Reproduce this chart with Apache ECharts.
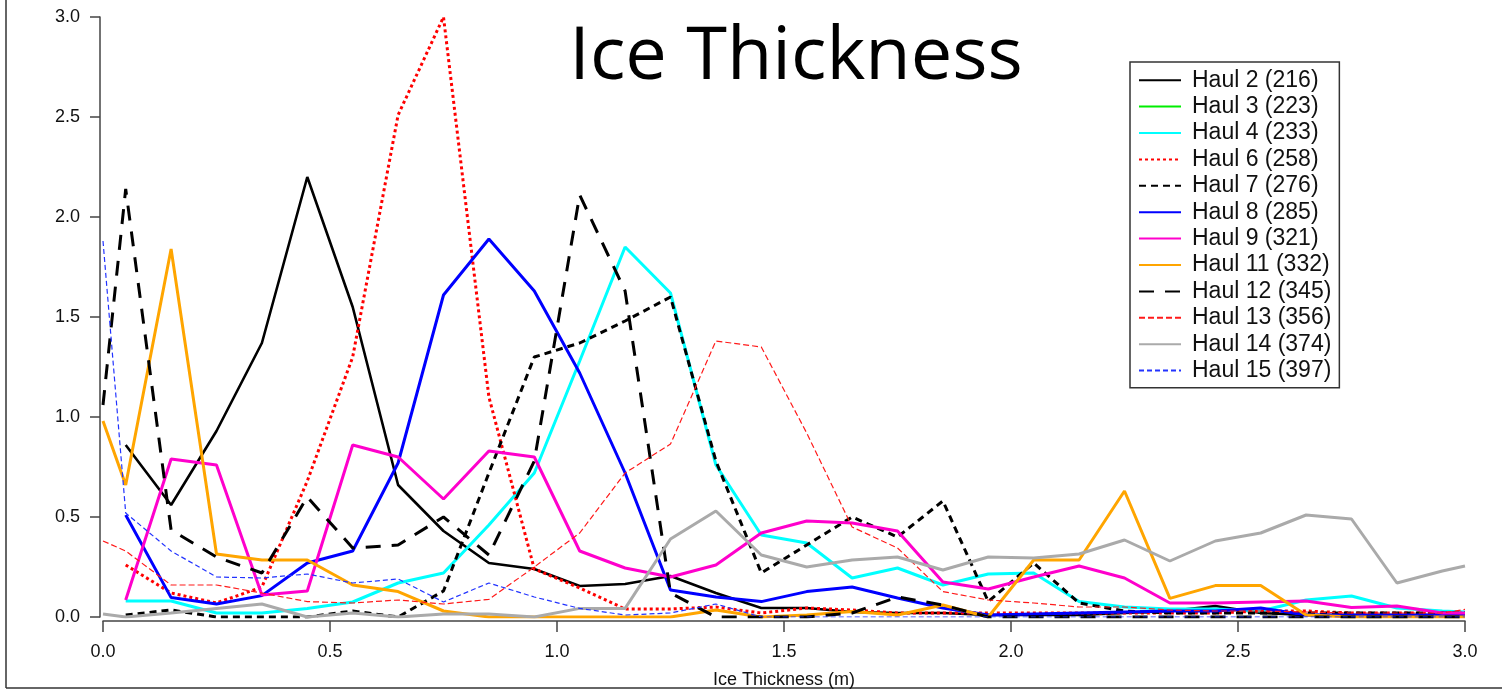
<!DOCTYPE html>
<html>
<head>
<meta charset="utf-8">
<script src="https://cdn.jsdelivr.net/npm/echarts@6/dist/echarts.min.js"></script>
<style>html,body{margin:0;padding:0;background:#fff}#chart{width:1502px;height:690px}</style>
</head>
<body>
<div id="chart"></div>
<script>
// Ice thickness bin positions (m)
const xVals = [0.0, 0.05, 0.15, 0.25, 0.35, 0.45, 0.55, 0.65, 0.75, 0.85, 0.95, 1.05, 1.15, 1.25, 1.35, 1.45, 1.55, 1.65, 1.75, 1.85, 1.95, 2.05, 2.15, 2.25, 2.35, 2.45, 2.55, 2.65, 2.75, 2.85, 2.95, 3.0];
const xTicks = [0, 0.5, 1.0, 1.5, 2.0, 2.5, 3.0];
const yTicks = [0, 0.5, 1.0, 1.5, 2.0, 2.5, 3.0];

const seriesNames = ["Haul 2 (216)", "Haul 3 (223)", "Haul 4 (233)", "Haul 6 (258)", "Haul 7 (276)", "Haul 8 (285)", "Haul 9 (321)", "Haul 11 (332)", "Haul 12 (345)", "Haul 13 (356)", "Haul 14 (374)", "Haul 15 (397)"];

const haul2  = [null, 0.86, 0.56, 0.93, 1.37, 2.20, 1.55, 0.66, 0.43, 0.27, 0.24, 0.155, 0.165, 0.205, 0.12, 0.045, 0.045, 0.025, 0.02, 0.02, 0.01, 0.01, 0.01, 0.02, 0.03, 0.055, 0.02, 0.01, 0.01, 0.01, 0.01, 0.01];
const haul3  = []; // no visible trace in the reference
const haul4  = [null, 0.08, 0.08, 0.02, 0.02, 0.043, 0.075, 0.17, 0.22, 0.46, 0.72, 1.28, 1.85, 1.62, 0.76, 0.41, 0.37, 0.195, 0.245, 0.16, 0.215, 0.22, 0.077, 0.05, 0.04, 0.04, 0.03, 0.085, 0.105, 0.045, 0.03, 0.025];
const haul6  = [null, 0.26, 0.12, 0.07, 0.15, 0.68, 1.30, 2.51, 3.0, 1.10, 0.24, 0.145, 0.04, 0.04, 0.05, 0.02, 0.045, 0.035, 0.02, 0.02, 0.02, 0.02, 0.02, 0.02, 0.02, 0.02, 0.03, 0.03, 0.02, 0.02, 0.02, 0.02];
const haul7  = [null, 0.01, 0.035, 0.0, 0.0, 0.0, 0.03, 0.0, 0.13, 0.72, 1.30, 1.37, 1.48, 1.60, 0.78, 0.22, 0.36, 0.50, 0.40, 0.58, 0.077, 0.27, 0.07, 0.03, 0.02, 0.02, 0.02, 0.02, 0.02, 0.02, 0.02, 0.02];
const haul8  = [null, 0.51, 0.097, 0.065, 0.107, 0.27, 0.33, 0.77, 1.61, 1.89, 1.63, 1.22, 0.72, 0.135, 0.10, 0.077, 0.127, 0.15, 0.095, 0.045, 0.01, 0.015, 0.02, 0.025, 0.03, 0.03, 0.045, 0.01, 0.01, 0.01, 0.01, 0.01];
const haul9  = [null, 0.085, 0.79, 0.76, 0.11, 0.13, 0.86, 0.80, 0.59, 0.83, 0.80, 0.33, 0.245, 0.20, 0.26, 0.42, 0.48, 0.47, 0.43, 0.175, 0.14, 0.20, 0.255, 0.195, 0.07, 0.07, 0.075, 0.08, 0.047, 0.055, 0.02, 0.02];
const haul11 = [0.98, 0.66, 1.84, 0.315, 0.285, 0.285, 0.16, 0.127, 0.03, 0.0, 0.0, 0.0, 0.0, 0.0, 0.035, 0.0, 0.01, 0.027, 0.01, 0.06, 0.0, 0.285, 0.285, 0.63, 0.093, 0.157, 0.157, 0.01, 0.0, 0.0, 0.0, 0.0];
const haul12 = [1.06, 2.14, 0.435, 0.30, 0.22, 0.60, 0.345, 0.36, 0.50, 0.31, 0.78, 2.11, 1.63, 0.12, 0.0, 0.0, 0.0, 0.02, 0.10, 0.06, 0.0, 0.0, 0.0, 0.0, 0.0, 0.0, 0.0, 0.0, 0.0, 0.0, 0.0, 0.0];
const haul13 = [0.38, 0.33, 0.16, 0.16, 0.12, 0.077, 0.07, 0.085, 0.065, 0.088, 0.25, 0.42, 0.72, 0.865, 1.38, 1.35, 0.92, 0.45, 0.345, 0.127, 0.085, 0.07, 0.05, 0.05, 0.035, 0.03, 0.03, 0.025, 0.02, 0.02, 0.02, 0.038];
const haul14 = [0.015, 0.0, 0.02, 0.043, 0.065, 0.0, 0.02, 0.0, 0.015, 0.015, 0.0, 0.043, 0.043, 0.39, 0.53, 0.31, 0.25, 0.285, 0.30, 0.235, 0.30, 0.295, 0.315, 0.385, 0.28, 0.38, 0.42, 0.51, 0.49, 0.17, 0.23, 0.255];
const haul15 = [1.88, 0.52, 0.33, 0.20, 0.195, 0.215, 0.17, 0.19, 0.075, 0.17, 0.10, 0.043, 0.01, 0.02, 0.065, 0.0, 0.0, 0.0, 0.0, 0.0, 0.0, 0.0, 0.0, 0.0, 0.0, 0.0, 0.0, 0.0, 0.0, 0.0, 0.0, 0.0];

const seriesValues = [haul2, haul3, haul4, haul6, haul7, haul8, haul9, haul11, haul12, haul13, haul14, haul15];

const styles = [
  {color: '#000000', width: 2.6, type: 'solid'},
  {color: '#00ee00', width: 3, type: 'solid'},
  {color: '#00ffff', width: 3, type: 'solid'},
  {color: '#ff0000', width: 3, type: [3, 3]},
  {color: '#000000', width: 3, type: [7, 5]},
  {color: '#0000ff', width: 3, type: 'solid'},
  {color: '#ff00cc', width: 3, type: 'solid'},
  {color: '#ffa500', width: 3, type: 'solid'},
  {color: '#000000', width: 3, type: [15, 11]},
  {color: '#ff1a1a', width: 1.2, type: [6, 3]},
  {color: '#aaaaaa', width: 3, type: 'solid'},
  {color: '#2233ff', width: 1.2, type: [5, 3]}
];

const chart = echarts.init(document.getElementById('chart'), null, {renderer: 'canvas'});

const series = seriesNames.map((name, k) => ({
  name: name,
  type: 'line',
  data: xVals.map((x, i) => [x, seriesValues[k][i]]).filter(d => d[1] !== null && d[1] !== undefined),
  showSymbol: false,
  symbol: 'none',
  lineStyle: {color: styles[k].color, width: styles[k].width, type: styles[k].type},
  itemStyle: {color: styles[k].color},
  z: 2
}));

const labelFont = '"Liberation Sans", Arial, sans-serif';

chart.setOption({
  animation: false,
  backgroundColor: '#ffffff',
  grid: {left: 103, right: 37, top: 17, bottom: 73, containLabel: false, outerBoundsMode: 'none'},
  xAxis: {
    type: 'value', min: 0, max: 3, interval: 0.5,
    offset: 4,
    name: 'Ice Thickness (m)', nameLocation: 'middle', nameGap: 50,
    nameTextStyle: {fontFamily: labelFont, fontSize: 18, color: '#111'},
    axisLine: {show: true, onZero: false, lineStyle: {color: '#444', width: 1.5}},
    axisTick: {show: true, inside: false, length: 11, lineStyle: {color: '#444', width: 1.5}},
    axisLabel: {margin: 22, fontFamily: labelFont, fontSize: 18, color: '#111',
      formatter: v => xTicks.includes(v) ? v.toFixed(1) : ''},
    splitLine: {show: false}
  },
  yAxis: {
    type: 'value', min: 0, max: 3, interval: 0.5,
    offset: 3,
    axisLine: {show: true, onZero: false, lineStyle: {color: '#444', width: 1.5}},
    axisTick: {show: true, inside: false, length: 10, lineStyle: {color: '#444', width: 1.5}},
    axisLabel: {margin: 20, fontFamily: labelFont, fontSize: 18, color: '#111',
      formatter: v => yTicks.includes(v) ? v.toFixed(1) : ''},
    splitLine: {show: false}
  },
  legend: {
    orient: 'vertical',
    left: 1130, top: 62,
    padding: [5, 8, 4, 8],
    itemWidth: 42, itemHeight: 14, itemGap: 0,
    borderColor: '#333', borderWidth: 1.5, backgroundColor: '#fff',
    itemStyle: {color: 'rgba(0,0,0,0)', borderWidth: 0, opacity: 0},
    textStyle: {fontFamily: labelFont, fontSize: 23, lineHeight: 26.4, color: '#111', padding: [0, 0, 0, 6]},
    data: seriesNames
  },
  graphic: [
    {type: 'text', z: 10,
      style: {text: 'Ice Thickness', x: 796, y: 58, font: '74px "Open Sans", sans-serif', fill: '#000', textAlign: 'center', textVerticalAlign: 'middle'}},
    {type: 'line', shape: {x1: 6, y1: 0, x2: 6, y2: 688}, style: {stroke: '#333', lineWidth: 1.5}},
    {type: 'line', shape: {x1: 6, y1: 688, x2: 1502, y2: 688}, style: {stroke: '#333', lineWidth: 1.5}}
  ],
  series: series
});
</script>
</body>
</html>
